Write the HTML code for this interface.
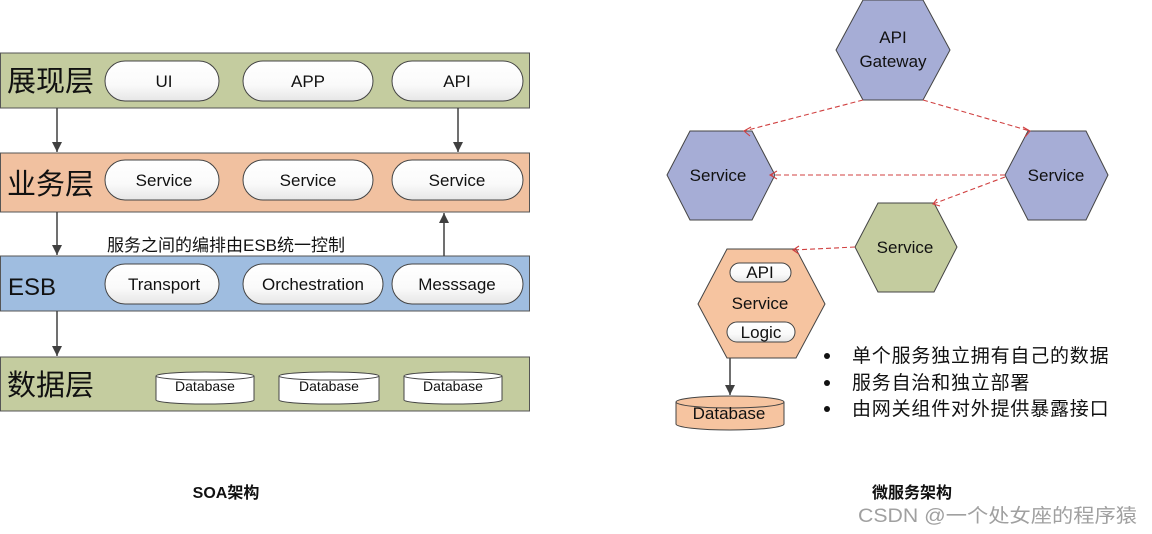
<!DOCTYPE html>
<html><head><meta charset="utf-8"><style>
body{margin:0;background:#fff;}
svg{display:block;}
text{font-family:"Liberation Sans","Noto Sans CJK SC",sans-serif;fill:#111;}
</style></head><body>
<svg width="1152" height="534" viewBox="0 0 1152 534" xmlns="http://www.w3.org/2000/svg">
<defs>
<linearGradient id="pill" x1="0" y1="0" x2="0" y2="1"><stop offset="0" stop-color="#fff"/><stop offset="0.6" stop-color="#fafafa"/><stop offset="1" stop-color="#e6e6e6"/></linearGradient>
<marker id="ah" markerWidth="10" markerHeight="10" refX="10" refY="5" orient="auto" markerUnits="userSpaceOnUse"><path d="M0,0 L10,5 L0,10 Z" fill="#404040"/></marker>
</defs>
<rect x="0.5" y="53" width="529" height="55" fill="#c4cc9f" stroke="#555"/>
<rect x="0.5" y="153" width="529" height="59" fill="#f1c1a0" stroke="#555"/>
<rect x="0.5" y="256" width="529" height="55" fill="#9fbde0" stroke="#555"/>
<rect x="0.5" y="357" width="529" height="54" fill="#c4cc9f" stroke="#555"/>
<g font-size="29">
<text x="7" y="91">展现层</text>
<text x="7" y="194">业务层</text>
<text x="8" y="295" font-size="24">ESB</text>
<text x="7" y="395">数据层</text>
</g>
<g stroke="#444" fill="url(#pill)">
<rect x="105" y="61" width="114" height="40" rx="20"/>
<rect x="243" y="61" width="130" height="40" rx="20"/>
<rect x="392" y="61" width="131" height="40" rx="20"/>
<rect x="105" y="160" width="114" height="40" rx="20"/>
<rect x="243" y="160" width="130" height="40" rx="20"/>
<rect x="392" y="160" width="131" height="40" rx="20"/>
<rect x="105" y="264" width="114" height="40" rx="20"/>
<rect x="243" y="264" width="140" height="40" rx="20"/>
<rect x="392" y="264" width="131" height="40" rx="20"/>
</g>
<g font-size="17" text-anchor="middle">
<text x="164" y="87">UI</text><text x="308" y="87">APP</text><text x="457" y="87">API</text>
<text x="164" y="186">Service</text><text x="308" y="186">Service</text><text x="457" y="186">Service</text>
<text x="164" y="290">Transport</text><text x="313" y="290">Orchestration</text><text x="457" y="290">Messsage</text>
</g>
<text x="107" y="251" font-size="17">服务之间的编排由ESB统一控制</text>
<g stroke="#444" fill="#fff">
<path d="M156,376 v24 a49,4 0 0 0 98,0 v-24"/><ellipse cx="205" cy="376" rx="49" ry="4"/>
<path d="M279,376 v24 a50,4 0 0 0 100,0 v-24"/><ellipse cx="329" cy="376" rx="50" ry="4"/>
<path d="M404,376 v24 a49,4 0 0 0 98,0 v-24"/><ellipse cx="453" cy="376" rx="49" ry="4"/>
</g>
<g font-size="14" text-anchor="middle">
<text x="205" y="391">Database</text><text x="329" y="391">Database</text><text x="453" y="391">Database</text>
</g>
<g stroke="#404040" stroke-width="1.5">
<line x1="57" y1="108" x2="57" y2="152" marker-end="url(#ah)"/>
<line x1="458" y1="108" x2="458" y2="152" marker-end="url(#ah)"/>
<line x1="57" y1="212" x2="57" y2="255" marker-end="url(#ah)"/>
<line x1="57" y1="311" x2="57" y2="356" marker-end="url(#ah)"/>
<line x1="444" y1="256" x2="444" y2="213" marker-end="url(#ah)"/>
<line x1="730" y1="358" x2="730" y2="395" marker-end="url(#ah)"/>
</g>
<g stroke="#444">
<polygon points="836,50 863,0 923,0 950,50 923,100 863,100" fill="#a6add6"/>
<polygon points="667,175 690,131 752,131 775,175 752,220 690,220" fill="#a6add6"/>
<polygon points="1005,175 1028,131 1086,131 1108,175 1086,220 1028,220" fill="#a6add6"/>
<polygon points="855,247 878,203 934,203 957,247 934,292 878,292" fill="#c4cc9f"/>
<polygon points="698,304 727,249 796,249 825,304 796,358 727,358" fill="#f6c4a0"/>
</g>
<g font-size="17" text-anchor="middle">
<text x="893" y="43">API</text><text x="893" y="67">Gateway</text>
<text x="718" y="181">Service</text><text x="1056" y="181">Service</text>
<text x="905" y="253">Service</text>
<text x="760" y="309">Service</text>
</g>
<g stroke="#444" fill="url(#pill)">
<rect x="730" y="263" width="61" height="19" rx="9.5"/>
<rect x="727" y="322" width="68" height="20" rx="10"/>
</g>
<g font-size="17" text-anchor="middle"><text x="760" y="278">API</text><text x="761" y="338">Logic</text></g>
<g stroke="#d04040" stroke-dasharray="5,3" fill="none" stroke-width="1.1">
<line x1="863" y1="100" x2="744" y2="131"/>
<line x1="923" y1="100" x2="1030" y2="131"/>
<line x1="1005" y1="175" x2="770" y2="175"/>
<line x1="1005" y1="177" x2="933" y2="204"/>
<line x1="855" y1="247" x2="793" y2="250"/>
</g>
<g stroke="#d04040" fill="none" stroke-width="1.1">
<path d="M751,127 L744,131 L750,136"/>
<path d="M1023,127 L1030,131 L1025,137"/>
<path d="M777,171 L770,175 L777,179"/>
<path d="M937,199 L933,204 L940,206"/>
<path d="M799,246 L793,250 L799,254"/>
</g>
<path d="M676,402 v22 a54,6 0 0 0 108,0 v-22" fill="#f6c4a0" stroke="#444"/>
<ellipse cx="730" cy="402" rx="54" ry="6" fill="#f6c4a0" stroke="#444"/>
<text x="729" y="419" font-size="17" text-anchor="middle">Database</text>
<g fill="#111"><circle cx="827" cy="356" r="3"/><circle cx="827" cy="383" r="3"/><circle cx="827" cy="409" r="3"/></g>
<g font-size="19" letter-spacing="0.8"><text x="852" y="362">单个服务独立拥有自己的数据</text><text x="852" y="389">服务自治和独立部署</text><text x="852" y="415">由网关组件对外提供暴露接口</text></g>
<g font-size="16" font-weight="bold" text-anchor="middle"><text x="226" y="498">SOA架构</text><text x="912" y="498">微服务架构</text></g>
<text x="858" y="522" font-size="19" style="fill:#a0a0a0" textLength="279" lengthAdjust="spacingAndGlyphs">CSDN @一个处女座的程序猿</text>
</svg>
</body></html>
